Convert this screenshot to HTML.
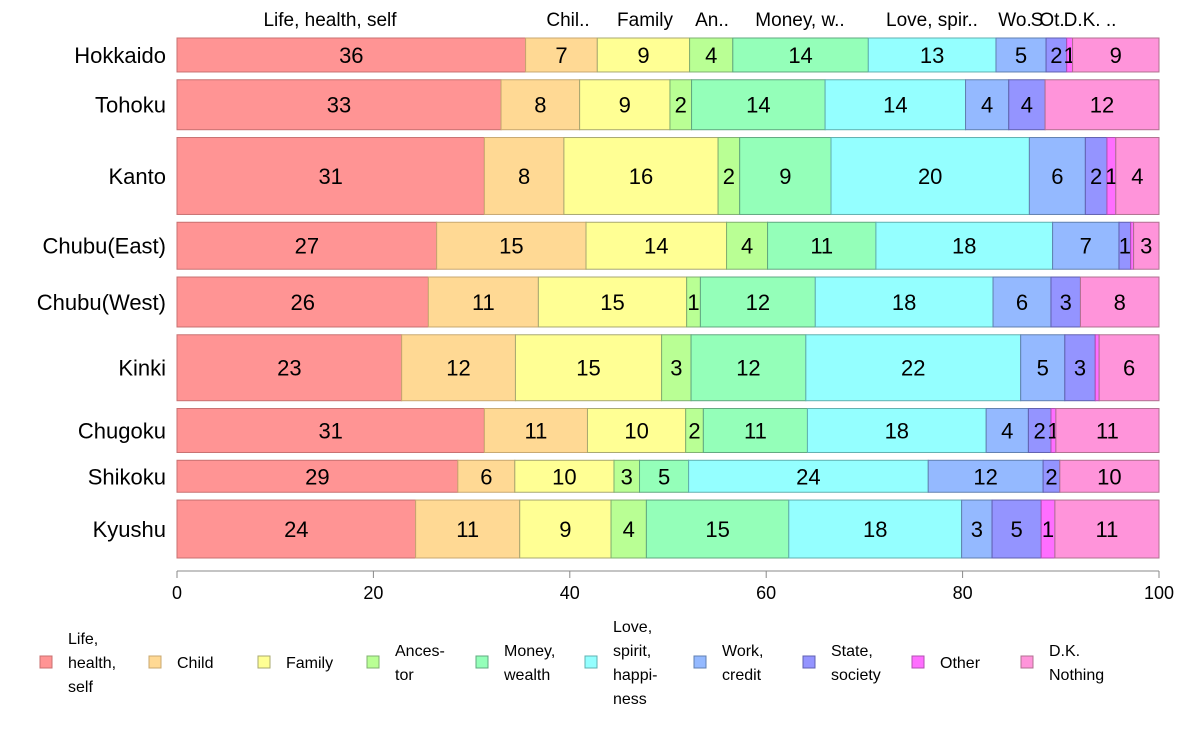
<!DOCTYPE html>
<html><head><meta charset="utf-8"><style>
body{margin:0;background:#fff;}
svg text{font-family:"Liberation Sans",sans-serif;fill:#000;}
</style></head><body>
<svg id="chart" width="1188" height="736" viewBox="0 0 1188 736" xmlns="http://www.w3.org/2000/svg">
<g id="bars"></g>
<g id="axis"></g>
<g id="top"></g>
<g id="legend"></g>
</svg>
<script>
const regions = ["Hokkaido","Tohoku","Kanto","Chubu(East)","Chubu(West)","Kinki","Chugoku","Shikoku","Kyushu"];
const categories = ["Life, health, self","Child","Family","Ancestor","Money, wealth","Love, spirit, happiness","Work, credit","State, society","Other","D.K. Nothing"];
const sampleSizes = [34,50,77,47,50,66,44,32,58];
const vHokkaido = [35.5,7.3,9.4,4.4,13.8,13.0,5.1,2.1,0.6,8.8];
const vTohoku = [33.0,8.0,9.2,2.2,13.6,14.3,4.4,3.7,0,11.6];
const vKanto = [31.3,8.1,15.7,2.2,9.3,20.2,5.7,2.2,0.9,4.4];
const vChubuEast = [26.6,15.3,14.4,4.2,11.1,18.1,6.8,1.2,0.3,2.6];
const vChubuWest = [25.6,11.2,15.1,1.4,11.7,18.1,5.9,3.0,0,8.0];
const vKinki = [22.9,11.6,14.9,3.0,11.7,21.9,4.5,3.1,0.4,6.1];
const vChugoku = [31.3,10.5,10.0,1.8,10.6,18.2,4.3,2.3,0.5,10.5];
const vShikoku = [28.6,5.8,10.1,2.6,5.0,24.4,11.7,1.7,0,10.1];
const vKyushu = [24.3,10.6,9.3,3.6,14.5,17.6,3.1,5.0,1.4,10.6];
const values = [vHokkaido,vTohoku,vKanto,vChubuEast,vChubuWest,vKinki,vChugoku,vShikoku,vKyushu];
const xTicks = [0,20,40,60,80,100];
const topLabels = ["Life, health, self","Chil..","Family","An..","Money, w..","Love, spir..","Wo.","S","Ot.","D.K. .."];
const legendLabels = [["Life,","health,","self"],["Child"],["Family"],["Ances-","tor"],["Money,","wealth"],["Love,","spirit,","happi-","ness"],["Work,","credit"],["State,","society"],["Other"],["D.K.","Nothing"]];

const fills=["#ff9494","#ffd994","#ffff94","#b9ff94","#94ffb9","#94ffff","#94b9ff","#9494ff","#ff6eff","#ff94da"];
const strokes=["#c87070","#c8a870","#a8a870","#80b070","#60a880","#60b0b0","#6080b0","#6060b0","#b050b0","#b07090"];
const NS="http://www.w3.org/2000/svg";
const X0=177,X1=1159,Y0=38,Y1=558,GAP=7.8;
const xs=v=>X0+(X1-X0)*v/100;
function mk(t,a,p){const e=document.createElementNS(NS,t);for(const k in a)e.setAttribute(k,a[k]);p.appendChild(e);return e;}
const bars=document.getElementById('bars');
const totalN=sampleSizes.reduce((a,b)=>a+b,0);
const avail=(Y1-Y0)-GAP*(regions.length-1);
let y=Y0;
regions.forEach((r,i)=>{
  const h=avail*sampleSizes[i]/totalN;
  const row=values[i];const sum=row.reduce((a,b)=>a+b,0);
  const g=mk('g',{},bars);
  
  
  const lab=mk('text',{x:166,y:y+h/2+8,'text-anchor':'end','font-size':22},g);
  lab.textContent=r;
  
  
  let cum=0;
  row.forEach((v,j)=>{
    const p=v/sum*100;const xa=xs(cum),xb=xs(cum+p);cum+=p;
    if(p<=0)return;
    const rc=mk('rect',{x:xa,y:y,width:xb-xa,height:h,fill:fills[j],stroke:strokes[j],'stroke-width':1},g);
    
    
    const lbl=Math.round(v);
    if(lbl>=1){const t=mk('text',{x:(xa+xb)/2,y:y+h/2+8,'text-anchor':'middle','font-size':22},g);t.textContent=lbl;
      
      }
  });
  y+=h+GAP;
});
const ax=document.getElementById('axis');
mk('line',{x1:X0,x2:X1,y1:571,y2:571,stroke:'#888'},ax);
xTicks.forEach(t=>{mk('line',{x1:xs(t),x2:xs(t),y1:571,y2:578,stroke:'#888'},ax);
  const tx=mk('text',{x:xs(t),y:599,'text-anchor':'middle','font-size':18},ax);tx.textContent=t;
  
  });
const topX=[330,568,645,712,800,932,1015,1037,1052,1090];
const tp=document.getElementById('top');
topLabels.forEach((l,i)=>{const t=mk('text',{x:topX[i],y:26,'text-anchor':'middle','font-size':19},tp);t.textContent=l;
  
  });
const lg=document.getElementById('legend');
legendLabels.forEach((ls,i)=>{
  const x=40+109*i;
  const g=mk('g',{},lg);
  
  
  mk('rect',{x:x,y:656,width:12,height:12,fill:fills[i],stroke:strokes[i]},g);
  const n=ls.length;const start=662-(n-1)*12;
  ls.forEach((s,k)=>{const t=mk('text',{x:x+28,y:start+k*24+6,'font-size':16},g);t.textContent=s;});
});
</script>
</body></html>
